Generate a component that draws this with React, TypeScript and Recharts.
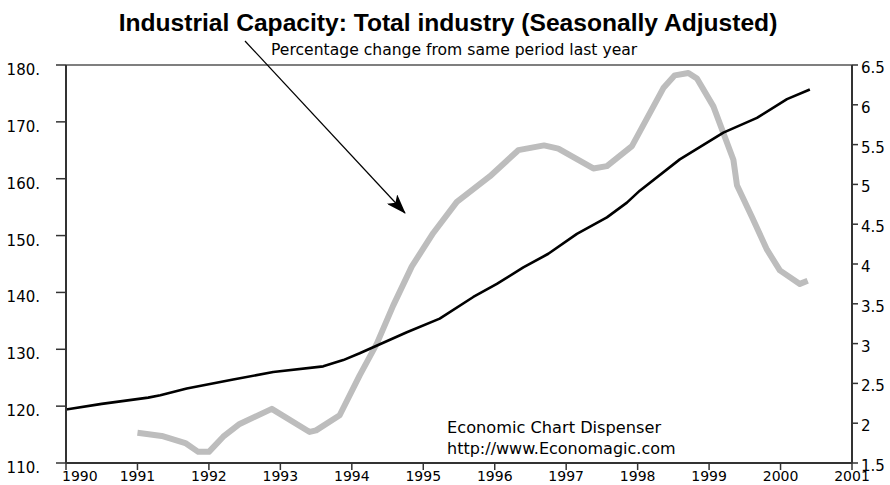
import React from "react";
import { LineChart, Line, XAxis, YAxis, ReferenceLine } from "recharts";

// Industrial capacity index (left axis)
const capYears = [1990.0, 1990.5, 1991.15, 1991.32, 1991.69, 1992.34, 1992.9, 1993.6, 1993.88, 1994.11, 1994.77, 1995.23, 1995.7, 1996.03, 1996.4, 1996.75, 1997.15, 1997.57, 1997.85, 1998.03, 1998.59, 1999.2, 1999.67, 2000.09, 2000.41];
const capValues = [119.4, 120.4, 121.5, 121.9, 123.1, 124.7, 126.0, 127.0, 128.1, 129.3, 133.0, 135.4, 139.2, 141.5, 144.4, 146.8, 150.3, 153.2, 155.8, 157.9, 163.4, 168.1, 170.7, 174.0, 175.7];

// Percentage change from same period last year (right axis)
const pctYears = [1991.0, 1991.34, 1991.67, 1991.85, 1992.0, 1992.2, 1992.43, 1992.88, 1993.41, 1993.5, 1993.83, 1994.11, 1994.35, 1994.58, 1994.84, 1995.14, 1995.47, 1995.93, 1996.33, 1996.69, 1996.89, 1997.38, 1997.57, 1997.92, 1998.36, 1998.52, 1998.71, 1998.83, 1999.06, 1999.34, 1999.39, 1999.6, 1999.81, 1999.99, 2000.27, 2000.38];
const pctValues = [1.88, 1.84, 1.75, 1.64, 1.64, 1.83, 1.99, 2.18, 1.89, 1.91, 2.1, 2.6, 3.0, 3.48, 3.97, 4.39, 4.78, 5.1, 5.43, 5.49, 5.45, 5.2, 5.23, 5.48, 6.21, 6.37, 6.4, 6.33, 5.98, 5.31, 4.99, 4.59, 4.18, 3.92, 3.75, 3.79];

const yearTicks = [1990, 1991, 1992, 1993, 1994, 1995, 1996, 1997, 1998, 1999, 2000, 2001];
const leftTicks = [110, 120, 130, 140, 150, 160, 170, 180];
const rightTicks = [1.5, 2, 2.5, 3, 3.5, 4, 4.5, 5, 5.5, 6, 6.5];

const title = "Industrial Capacity: Total industry (Seasonally Adjusted)";
const subtitle = "Percentage change from same period last year";
const credit1 = "Economic Chart Dispenser";
const credit2 = "http://www.Economagic.com";

const capData = capYears.map((x, i) => ({ x, cap: capValues[i] }));
const pctData = pctYears.map((x, i) => ({ x, pct: pctValues[i] }));

const FONT = "'DejaVu Sans', sans-serif";

const LeftTick = (props: any) => {
  const { x, y, payload } = props;
  return (
    <text x={x} y={y + 5} textAnchor="end" dominantBaseline="central" fontFamily={FONT} fontSize={15} fill="#000">
      {`${payload.value}.`}
    </text>
  );
};

const RightTick = (props: any) => {
  const { x, y, payload } = props;
  return (
    <text x={x} y={y + 3} textAnchor="start" dominantBaseline="central" fontFamily={FONT} fontSize={15} fill="#000">
      {String(payload.value)}
    </text>
  );
};

const BottomTick = (props: any) => {
  const { x, y, payload } = props;
  const first = payload.value === 1990;
  return (
    <text x={first ? x - 4 : x} y={y + 9} textAnchor={first ? "start" : "middle"} fontFamily={FONT} fontSize={14} fill="#000">
      {String(payload.value)}
    </text>
  );
};

export default function App() {
  return (
    <div style={{ position: "absolute", left: 0, top: 0, width: 890, height: 485 }}>
      <LineChart width={890} height={485} data={capData} margin={{ top: 65, right: 0, bottom: 0, left: 0 }}>
        <XAxis
          dataKey="x"
          type="number"
          domain={[1990, 2001]}
          ticks={yearTicks}
          allowDataOverflow
          height={22}
          tickSize={7}
          tickMargin={2}
          axisLine={{ stroke: "#333", strokeWidth: 2 }}
          tickLine={{ stroke: "#333", strokeWidth: 1.5 }}
          tick={<BottomTick />}
          interval={0}
        />
        <YAxis
          yAxisId="left"
          orientation="left"
          domain={[110, 180]}
          ticks={leftTicks}
          width={66}
          tickSize={10}
          tickMargin={16}
          axisLine={{ stroke: "#333", strokeWidth: 2 }}
          tickLine={{ stroke: "#333", strokeWidth: 1.5 }}
          tick={<LeftTick />}
          interval={0}
        />
        <YAxis
          yAxisId="right"
          orientation="right"
          domain={[1.5, 6.5]}
          ticks={rightTicks}
          width={38}
          tickSize={6}
          tickMargin={3}
          axisLine={{ stroke: "#333", strokeWidth: 2 }}
          tickLine={{ stroke: "#333", strokeWidth: 1.5 }}
          tick={<RightTick />}
          interval={0}
        />
        <ReferenceLine yAxisId="left" y={180} stroke="#555" strokeWidth={1.5} />
        <Line
          yAxisId="right"
          data={pctData}
          dataKey="pct"
          type="linear"
          stroke="#bdbdbd"
          strokeWidth={6}
          strokeLinejoin="round"
          dot={false}
          activeDot={false}
          isAnimationActive={false}
        />
        <Line
          yAxisId="left"
          data={capData}
          dataKey="cap"
          type="linear"
          stroke="#000"
          strokeWidth={2.6}
          strokeLinejoin="round"
          dot={false}
          activeDot={false}
          isAnimationActive={false}
        />
      </LineChart>
      <svg width={890} height={485} style={{ position: "absolute", left: 0, top: 0, pointerEvents: "none" }}>
        <defs>
          <marker id="arrowHead" markerWidth="20" markerHeight="14" refX="19" refY="7" orient="auto" markerUnits="userSpaceOnUse">
            <path d="M0,0 L20,7 L0,14 L5,7 Z" fill="#000" />
          </marker>
        </defs>
        <text x={448} y={31} textAnchor="middle" fontFamily="'Liberation Sans', Arial, sans-serif" fontWeight="bold" fontSize={24.6} fill="#000">
          {title}
        </text>
        <text x={271} y={55} textAnchor="start" fontFamily={FONT} fontSize={15.6} fill="#000">
          {subtitle}
        </text>
        <line x1={245} y1={41} x2={405} y2={213} stroke="#000" strokeWidth={1.2} markerEnd="url(#arrowHead)" />
        <text x={447} y={433} textAnchor="start" fontFamily={FONT} fontSize={16.2} fill="#000">
          {credit1}
        </text>
        <text x={447} y={454} textAnchor="start" fontFamily={FONT} fontSize={16} fill="#000">
          {credit2}
        </text>
      </svg>
    </div>
  );
}
